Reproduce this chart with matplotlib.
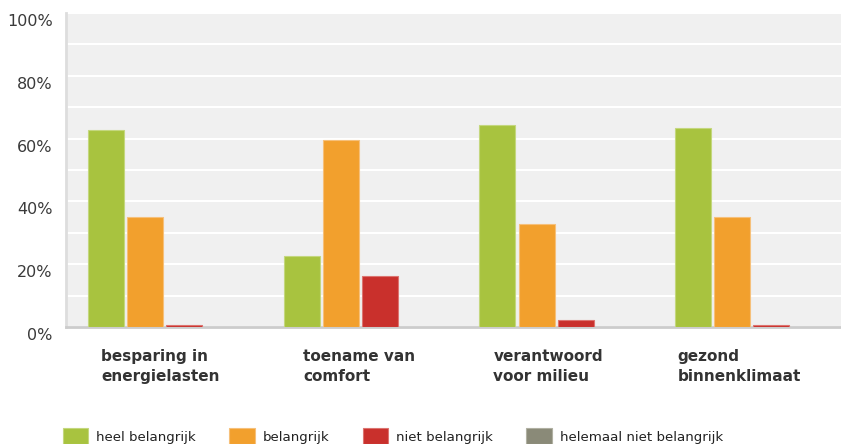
import numpy as np
import matplotlib
matplotlib.use("Agg")
import matplotlib.pyplot as plt
import matplotlib.transforms as mtransforms
from matplotlib.patches import Patch
from matplotlib.ticker import FuncFormatter

# Data (percentages)
categories = ["besparing in\nenergielasten", "toename van\ncomfort",
              "verantwoord\nvoor milieu", "gezond\nbinnenklimaat"]
series_names = ["heel belangrijk", "belangrijk", "niet belangrijk",
                "helemaal niet belangrijk"]
heel_belangrijk = [62.7, 22.6, 64.2, 63.3]
belangrijk = [35.1, 59.7, 32.7, 35.1]
niet_belangrijk = [0.6, 16.1, 2.1, 0.6]
helemaal_niet = [0.0, 0.0, 0.0, 0.0]
values = [heel_belangrijk, belangrijk, niet_belangrijk, helemaal_niet]
colors = ["#a8c33f", "#f2a02d", "#c9302c", "#8a8a78"]
edge_colors = ["#c4d77e", "#f6c07a", "#dc7470", "#b0b0a2"]

# label placement (fraction of a category, left edge of each label block)
label_shift = [-0.32, -0.29, -0.32, -0.38]

W, H = 841, 444
fig = plt.figure(figsize=(W / 100, H / 100), dpi=100)
ax = fig.add_axes([66 / W, (H - 327) / H, 4 * 196 / W, 314 / H])
ax.set_facecolor("#f0f0f0")

x = np.arange(len(categories))
slot = 39 / 196
bw = 36 / 196
for j, (vals, c, ec) in enumerate(zip(values, colors, edge_colors)):
    bars = ax.bar(x + (j - 1.5) * slot, vals, width=bw, color=c, edgecolor=ec,
                  linewidth=0.8, zorder=3, label=series_names[j])
    for b in bars:
        if b.get_height() <= 0:
            b.set_visible(False)

ax.set_xlim(-0.5, len(categories) - 0.5)
ax.set_ylim(0, 100)
ax.set_yticks(np.arange(0, 101, 20))
ax.set_yticks(np.arange(0, 101, 10), minor=True)
ax.yaxis.set_major_formatter(FuncFormatter(lambda v, p: f"{int(v)}%"))
ax.grid(axis="y", which="both", color="white", linewidth=1.5, zorder=1)
ax.tick_params(axis="y", which="both", length=0, pad=9.5, labelsize=11.5,
               labelcolor="#3a3a3a")
ax.set_xticks([])
for s in ["top", "right"]:
    ax.spines[s].set_visible(False)
ax.spines["left"].set_color("#dddddd")
ax.spines["left"].set_linewidth(2)
ax.spines["bottom"].set_color("#cccccc")
ax.spines["bottom"].set_linewidth(2)

# y labels sit a little below their gridline in the original
shift = mtransforms.ScaledTranslation(0, -7 / 100, fig.dpi_scale_trans)
for lbl in ax.get_yticklabels():
    lbl.set_transform(lbl.get_transform() + shift)

# category labels, left aligned block under each group
for i, lab in enumerate(categories):
    ax.text(i + label_shift[i], -7.0, lab, ha="left", va="top", fontsize=11,
            fontweight="bold", color="#333333", linespacing=1.45,
            transform=ax.transData, clip_on=False)

handles = [Patch(facecolor=c, edgecolor=ec, linewidth=0.8)
           for c, ec in zip(colors, edge_colors)]
fig.legend(handles, series_names, ncol=4, loc="upper left",
           bbox_to_anchor=(51 / W, 1 - 416 / H), frameon=False,
           fontsize=9.6, handlelength=1.9, handleheight=1.5,
           handletextpad=0.6, columnspacing=2.5, labelcolor="#222222")

fig.savefig("out.png", dpi=100)
